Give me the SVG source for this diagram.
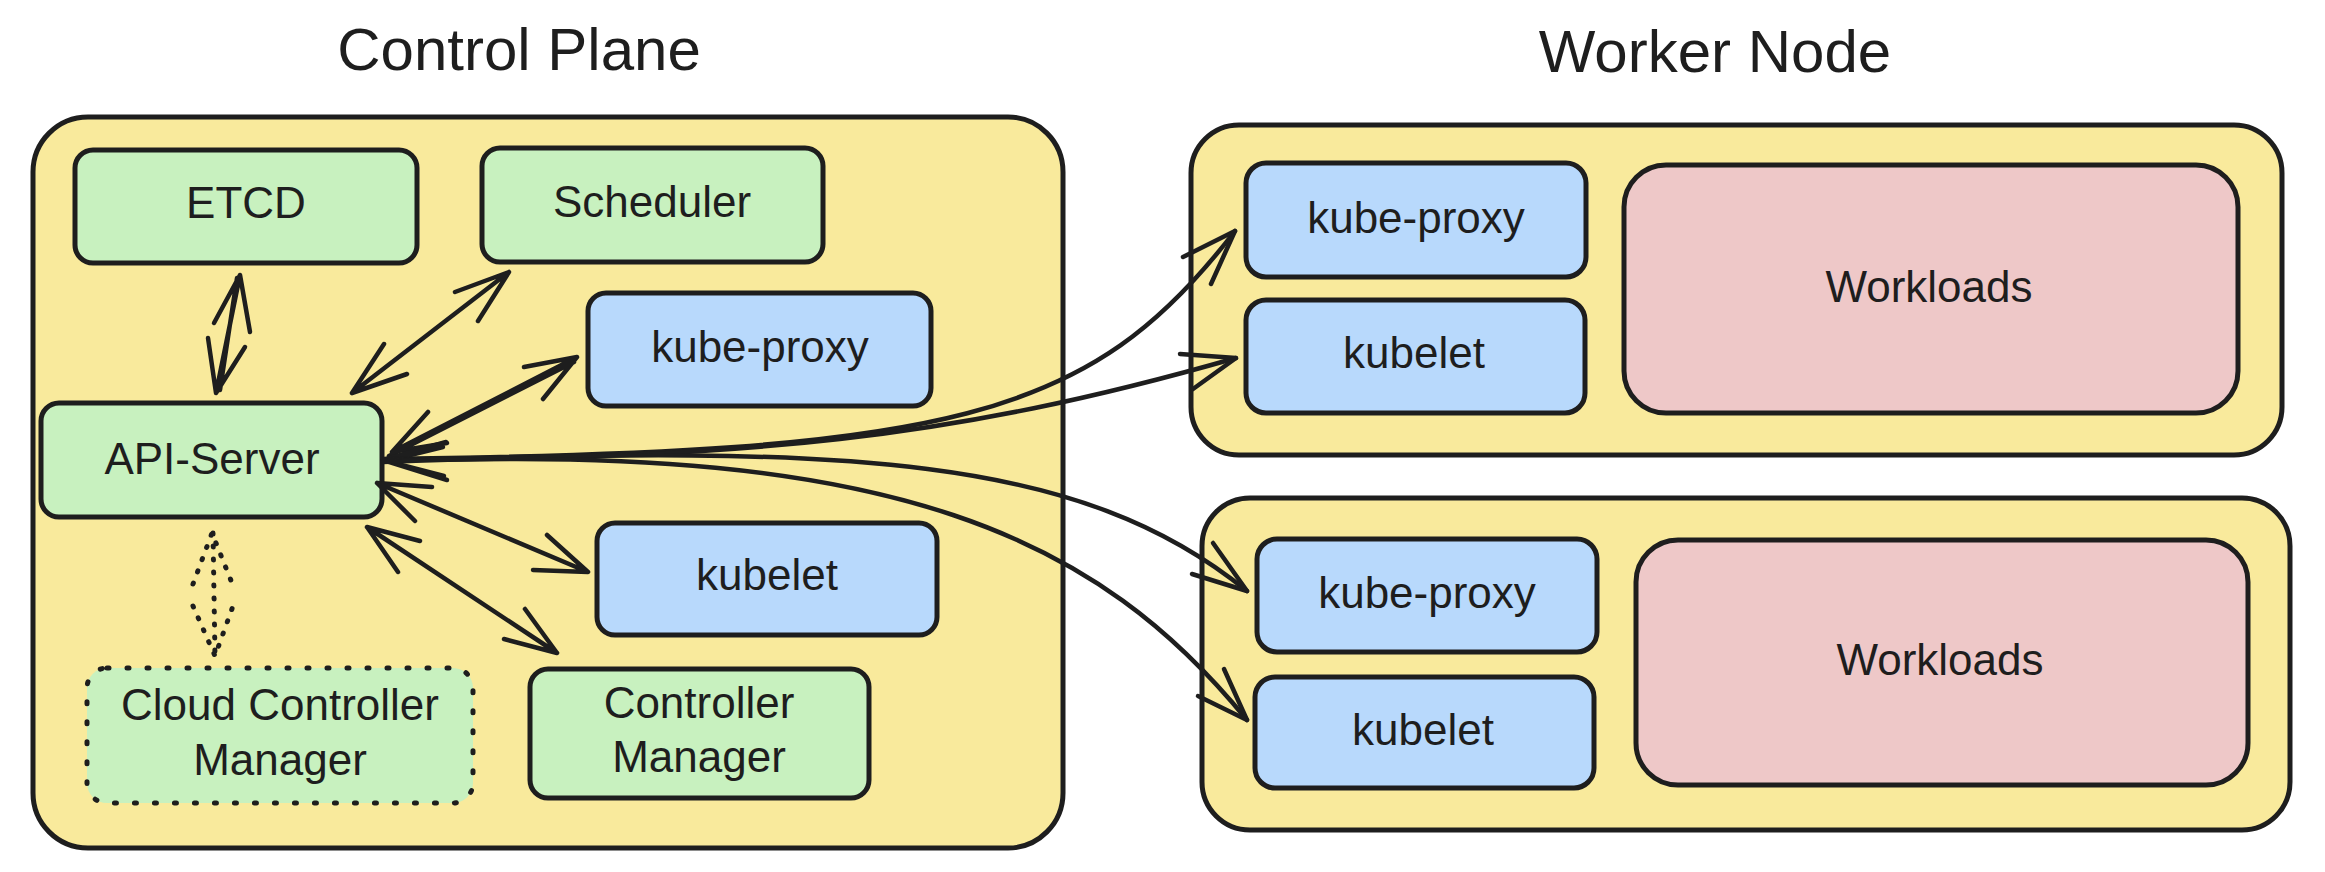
<svg xmlns="http://www.w3.org/2000/svg" width="2325" height="872" viewBox="0 0 2325 872">
<style>
.grp{fill:#f9ea9c;stroke:#1e1e1e;stroke-width:5}
.g{fill:#c8f1bf;stroke:#1e1e1e;stroke-width:5}
.b{fill:#b8d9fc;stroke:#1e1e1e;stroke-width:5}
.p{fill:#eec8c8;stroke:#1e1e1e;stroke-width:5}
.dot{stroke-dasharray:2 18;stroke-linecap:round}
text{font-family:"Liberation Sans",Arial,sans-serif;fill:#1e1e1e;text-anchor:middle}
.lbl{font-size:44px}
.ttl{font-size:60px}
.ln{fill:none;stroke:#1e1e1e;stroke-width:4.5;stroke-linecap:round;stroke-linejoin:round}
.ld{fill:none;stroke:#1e1e1e;stroke-width:5;stroke-linecap:round;stroke-dasharray:1 12}
</style>
<rect width="2325" height="872" fill="#ffffff"/>
<text class="ttl" x="519" y="70">Control Plane</text>
<text class="ttl" x="1715" y="72">Worker Node</text>

<g id="control-plane"><rect class="grp" x="33" y="117" width="1030" height="731" rx="55"/></g>
<g id="worker-node-1"><rect class="grp" x="1191" y="125" width="1091" height="330" rx="48"/></g>
<g id="worker-node-2"><rect class="grp" x="1202" y="498" width="1088" height="332" rx="48"/></g>

<g id="etcd"><rect class="g" x="75" y="150" width="342" height="113" rx="18"/><text class="lbl" x="246" y="218">ETCD</text></g>
<g id="scheduler"><rect class="g" x="482" y="148" width="341" height="114" rx="18"/><text class="lbl" x="652" y="217">Scheduler</text></g>
<g id="cp-kube-proxy"><rect class="b" x="588" y="293" width="343" height="113" rx="18"/><text class="lbl" x="760" y="362">kube-proxy</text></g>
<g id="api-server"><rect class="g" x="41" y="403" width="341" height="114" rx="18"/><text class="lbl" x="212" y="474">API-Server</text></g>
<g id="cp-kubelet"><rect class="b" x="597" y="523" width="340" height="112" rx="18"/><text class="lbl" x="767" y="590">kubelet</text></g>
<g id="cloud-controller-manager"><rect class="g dot" x="87" y="668" width="386" height="135" rx="20"/><text class="lbl" x="280" y="720">Cloud Controller</text><text class="lbl" x="280" y="775">Manager</text></g>
<g id="controller-manager"><rect class="g" x="530" y="669" width="339" height="129" rx="18"/><text class="lbl" x="699" y="718">Controller</text><text class="lbl" x="699" y="772">Manager</text></g>

<g id="wn1-kube-proxy"><rect class="b" x="1246" y="163" width="340" height="114" rx="20"/><text class="lbl" x="1416" y="233">kube-proxy</text></g>
<g id="wn1-kubelet"><rect class="b" x="1246" y="300" width="339" height="113" rx="20"/><text class="lbl" x="1414" y="368">kubelet</text></g>
<g id="wn1-workloads"><rect class="p" x="1624" y="165" width="614" height="248" rx="42"/><text class="lbl" x="1929" y="302">Workloads</text></g>

<g id="wn2-kube-proxy"><rect class="b" x="1257" y="539" width="340" height="113" rx="20"/><text class="lbl" x="1427" y="608">kube-proxy</text></g>
<g id="wn2-kubelet"><rect class="b" x="1255" y="677" width="339" height="111" rx="20"/><text class="lbl" x="1423" y="745">kubelet</text></g>
<g id="wn2-workloads"><rect class="p" x="1636" y="540" width="612" height="245" rx="42"/><text class="lbl" x="1940" y="675">Workloads</text></g>

<g id="connectors">
<!-- ETCD <-> API-Server -->
<path class="ln" d="M240 275 L216 393 M237 278 L220 390 M214 323 L240 275 L250 332 M208 338 L216 393 L245 347"/>
<!-- Scheduler <-> API-Server -->
<path class="ln" d="M509 272 L352 393 M455 292 L509 272 L478 321 M384 344 L352 393 L407 374"/>
<!-- kube-proxy <-> API-Server -->
<path class="ln" stroke-width="3" d="M577 357 L392 452 M574 362 L389 456 M524 367 L577 357 L543 399 M428 412 L392 452 L447 443"/>
<!-- kubelet <-> API-Server -->
<path class="ln" d="M377 483 L588 572 M432 487 L377 483 L415 521 M547 535 L588 572 L533 570"/>
<!-- Controller Manager <-> API-Server -->
<path class="ln" d="M367 527 L557 653 M420 541 L367 527 L398 572 M525 609 L557 653 L504 639"/>
<!-- API-Server <-> Cloud Controller Manager (dotted) -->
<path class="ld" d="M213 533 L215 656 M193 584 L212 533 L232 583 M193 606 L215 656 L233 606"/>
<!-- API-Server <-> worker nodes -->
<path class="ln" d="M446 442 L383 460 L447 480 M443 447 L386 461 L444 476"/>
<path class="ln" stroke-width="5.5" d="M383 459 C950 452 1090 420 1235 231"/>
<path class="ln" d="M1183 257 L1235 231 L1211 284"/>
<path class="ln" d="M383 460 C750 458 950 440 1236 358"/>
<path class="ln" d="M1180 354 L1236 358 L1193 389"/>
<path class="ln" d="M383 461 C850 445 1080 455 1247 591"/>
<path class="ln" d="M1192 574 L1247 591 L1213 543"/>
<path class="ln" stroke-width="5" d="M383 462 C900 440 1100 540 1247 720"/>
<path class="ln" d="M1198 696 L1247 720 L1224 669"/>
</g>
</svg>
